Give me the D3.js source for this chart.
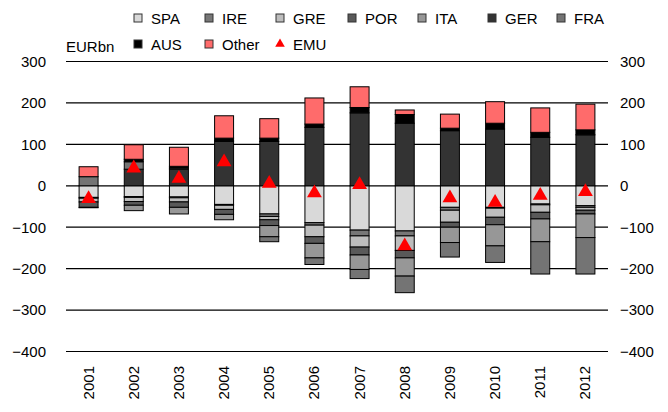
<!DOCTYPE html>
<html>
<head>
<meta charset="utf-8">
<script src="https://cdn.jsdelivr.net/npm/d3@7"></script>
<style>
  body { margin: 0; background: #fff; }
  text { font-family: "Liberation Sans", Arial, sans-serif; fill: #000; }
</style>
</head>
<body>
<svg id="vis" width="668" height="412"></svg>
<script>
const svg = d3.select("#vis");

// data, EUR bn
const YEARS = ["2001", "2002", "2003", "2004", "2005", "2006", "2007", "2008", "2009", "2010", "2011", "2012"];
const SPA = [-28, -26, -27, -45, -68, -89, -107, -109, -52, -52, -44, -48];
const IRE = [-2, -2, -2, -2, -6, -6, -14, -12, -7, -2, -2, -4];
const GRE = [-9, -10, -10, -10, -8, -28, -27, -35, -29, -22, -18, -7];
const POR = [-13, -9, -13, -12, -14, -16, -19, -18, -12, -18, -16, -9];
const ITA = [-1, -13, -16, -13, -27, -35, -35, -44, -37, -51, -55, -57];
const GER = [0, 40, 40, 107, 107, 141, 176, 151, 133, 137, 117, 123];
const FRA = [22, 18, 3, 2, -12, -16, -22, -40, -35, -40, -78, -88];
const AUS = [0, 6, 4, 6, 8, 8, 13, 21, 6, 14, 12, 12];
const OTHER = [24, 35, 46, 54, 47, 63, 50, 11, 34, 52, 59, 62];
const EMU = [-29, 45, 20, 60, 8, -15, 5, -143, -27, -38, -21, -12];

const Y_TICKS = [300, 200, 100, 0, -100, -200, -300, -400];

const SERIES = [
  {name: "SPA", values: SPA, color: "#d9d9d9"},
  {name: "IRE", values: IRE, color: "#777777"},
  {name: "GRE", values: GRE, color: "#bdbdbd"},
  {name: "POR", values: POR, color: "#595959"},
  {name: "ITA", values: ITA, color: "#979797"},
  {name: "GER", values: GER, color: "#333333"},
  {name: "FRA", values: FRA, color: "#747474"},
  {name: "AUS", values: AUS, color: "#000000"},
  {name: "Other", values: OTHER, color: "#ff6b6b"}
];

const LEFT = 66, RIGHT = 608, TOP = 61.5, BOTTOM = 351.5;

const x = d3.scaleBand().domain(YEARS).range([LEFT, RIGHT]).paddingInner(0.58).paddingOuter(0.29);
const y = d3.scaleLinear().domain([-400, 300]).range([BOTTOM, TOP]);

function main() {
  drawGrid();
  drawBars();
  drawEmu();
  drawLabels();
  drawLegend();
}

function drawGrid() {
  svg.append("g").selectAll("line").data(Y_TICKS).join("line")
    .attr("x1", LEFT).attr("x2", RIGHT)
    .attr("y1", d => y(d)).attr("y2", d => y(d))
    .attr("stroke", "#000").attr("stroke-width", 1.2);

  const left = d3.axisLeft(y).tickValues(Y_TICKS).tickSize(0).tickPadding(0);
  svg.append("g").attr("transform", `translate(${LEFT - 20},0)`).call(left)
    .call(g => g.select(".domain").remove())
    .selectAll("text").style("font-size", "15px").style("font-family", "Liberation Sans, Arial");

  const right = d3.axisRight(y).tickValues(Y_TICKS).tickSize(0).tickPadding(0);
  svg.append("g").attr("transform", `translate(${RIGHT + 12},0)`).call(right)
    .call(g => g.select(".domain").remove())
    .selectAll("text").style("font-size", "15px").style("font-family", "Liberation Sans, Arial");
}

function drawBars() {
  // stack positives upward and negatives downward, in series order (like Excel)
  let segs = [];
  YEARS.forEach((yr, i) => {
    let pos = 0, neg = 0;
    SERIES.forEach(s => {
      const v = s.values[i];
      if (v === 0) return;
      if (v > 0) { segs.push({yr: yr, y0: pos, y1: pos + v, color: s.color}); pos += v; }
      else { segs.push({yr: yr, y0: neg + v, y1: neg, color: s.color}); neg += v; }
    });
  });

  svg.append("g").selectAll("rect").data(segs).join("rect")
    .attr("x", d => x(d.yr))
    .attr("width", x.bandwidth())
    .attr("y", d => y(d.y1))
    .attr("height", d => y(d.y0) - y(d.y1))
    .attr("fill", d => d.color)
    .attr("stroke", "#000")
    .attr("stroke-width", 1);
}

function drawEmu() {
  const tri = d3.symbol().type(d3.symbolTriangle).size(95);
  svg.append("g").selectAll("path").data(EMU).join("path")
    .attr("d", tri)
    .attr("transform", (d, i) => `translate(${x(YEARS[i]) + x.bandwidth() / 2},${y(d) + 1})`)
    .attr("fill", "#ff0000");
}

function drawLabels() {
  svg.append("g").selectAll("text").data(YEARS).join("text")
    .attr("transform", d => `translate(${x(d) + x.bandwidth() / 2 + 5},366) rotate(-90)`)
    .attr("text-anchor", "end")
    .style("font-size", "15px")
    .text(d => d);

  svg.append("text")
    .attr("x", 66).attr("y", 52)
    .style("font-size", "15px")
    .text("EURbn");
}

function drawLegend() {
  const cols = [138, 209, 280, 352, 422, 492, 561];
  const items = SERIES.map(s => ({name: s.name, color: s.color, kind: "box"}));
  items.push({name: "EMU", color: "#ff0000", kind: "tri"});

  const g = svg.append("g");
  items.forEach((d, i) => {
    const cx = cols[i % 7];
    const cy = i < 7 ? 18 : 44;
    if (d.kind === "box") {
      g.append("rect")
        .attr("x", cx - 4).attr("y", cy - 4)
        .attr("width", 8).attr("height", 8)
        .attr("fill", d.color)
        .attr("stroke", "#333").attr("stroke-width", 1);
    } else {
      g.append("path")
        .attr("d", d3.symbol().type(d3.symbolTriangle).size(40))
        .attr("transform", `translate(${cx},${cy})`)
        .attr("fill", d.color);
    }
    g.append("text")
      .attr("x", cx + 13).attr("y", cy + 5.5)
      .style("font-size", "15px")
      .text(d.name);
  });
}

main();
</script>
</body>
</html>
